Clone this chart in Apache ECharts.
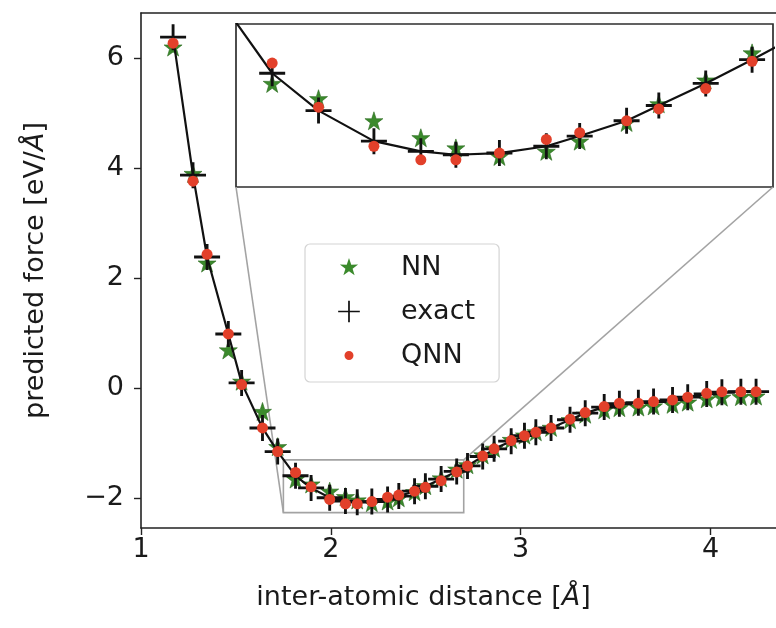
<!DOCTYPE html>
<html>
<head>
<meta charset="utf-8">
<script src="https://cdn.jsdelivr.net/npm/echarts@6/dist/echarts.min.js"></script>
<style>
  html, body { margin: 0; padding: 0; background: #fff; }
  #chart { width: 776px; height: 628px; }
</style>
</head>
<body>
<div id="chart"></div>
<script>
// inter-atomic distance [Å]
var distance = [1.169, 1.274, 1.348, 1.460, 1.530, 1.640, 1.720, 1.814, 1.896, 1.994,
  2.077, 2.139, 2.216, 2.299, 2.358, 2.441, 2.498, 2.581, 2.663, 2.720,
  2.800, 2.860, 2.950, 3.020, 3.080, 3.160, 3.260, 3.340, 3.440, 3.520,
  3.620, 3.700, 3.800, 3.880, 3.980, 4.060, 4.160, 4.240];
// force [eV/Å]
var exactForce = [6.38, 3.87, 2.38, 0.98, 0.09, -0.73, -1.16, -1.60, -1.82, -2.00,
  -2.06, -2.08, -2.07, -2.03, -1.97, -1.88, -1.79, -1.66, -1.52, -1.42,
  -1.25, -1.11, -0.97, -0.87, -0.81, -0.73, -0.58, -0.46, -0.35, -0.29,
  -0.27, -0.25, -0.22, -0.17, -0.11, -0.08, -0.07, -0.07];
var nnForce = [6.20, 3.90, 2.27, 0.69, 0.12, -0.43, -1.07, -1.66, -1.75, -1.88,
  -1.98, -2.04, -2.09, -2.06, -2.00, -1.89, -1.78, -1.64, -1.48, -1.40,
  -1.22, -1.10, -0.94, -0.86, -0.80, -0.72, -0.58, -0.48, -0.40, -0.36,
  -0.35, -0.33, -0.30, -0.26, -0.20, -0.17, -0.16, -0.15];
var qnnForce = [6.27, 3.76, 2.43, 0.98, 0.06, -0.73, -1.16, -1.54, -1.80, -2.03,
  -2.11, -2.11, -2.07, -1.99, -1.95, -1.88, -1.81, -1.69, -1.53, -1.42,
  -1.24, -1.11, -0.96, -0.87, -0.81, -0.73, -0.57, -0.45, -0.34, -0.28,
  -0.28, -0.25, -0.22, -0.17, -0.10, -0.07, -0.07, -0.07];

var xTicks = [1, 2, 3, 4];
var yTicks = [-2, 0, 2, 4, 6];
// zoomed region shown in the inset
var zoomX = [1.75, 2.70];
var zoomY = [-2.27, -1.31];

var FONT = "DejaVu Sans";
var AXIS_COLOR = "#222";
var TEXT_COLOR = "#1a1a1a";
var GREEN = "#3b8a2c";
var RED = "#e2402a";

var starPath = "path://M50,0L61.8,35.1L97.6,34.5L68.8,56.2L79.4,90.5L50,69.8L20.6,90.5L31.2,56.2L2.4,34.5L38.2,35.1Z";
var plusPath = "path://M0,8.9H20V11.1H0ZM8.9,0H11.1V20H8.9Z";
// legend icons: tiny corner specks widen the box so the glyph keeps its own size
var starLegend = "path://M-18,-18h0.01v0.01ZM118,118h0.01v0.01ZM50,0L61.8,35.1L97.6,34.5L68.8,56.2L79.4,90.5L50,69.8L20.6,90.5L31.2,56.2L2.4,34.5L38.2,35.1Z";
var plusLegend = "path://M-2,-2h0.01v0.01ZM22,22h0.01v0.01ZM0,9.2H20V10.8H0ZM9.2,0H10.8V20H9.2Z";
var dotLegend = "path://M0,0h0.01v0.01ZM26,26h0.01v0.01ZM17.5,13A4.5,4.5,0,1,1,8.5,13A4.5,4.5,0,1,1,17.5,13Z";

function pairs(xs, ys) {
  var out = [];
  for (var i = 0; i < xs.length; i++) out.push([xs[i], ys[i]]);
  return out;
}
function minus(v) {
  return String(v).replace("-", "\u2212");
}

var nnData = pairs(distance, nnForce);
var exactData = pairs(distance, exactForce);
var qnnData = pairs(distance, qnnForce);

function makeSeries(xi, yi) {
  return [
    {
      name: "NN", type: "scatter", xAxisIndex: xi, yAxisIndex: yi,
      symbol: starPath, symbolSize: 18, z: 2,
      itemStyle: { color: GREEN, opacity: 1, borderColor: "#2a6a1f", borderWidth: 0.6 },
      data: nnData
    },
    {
      name: "exact", type: "line", xAxisIndex: xi, yAxisIndex: yi,
      symbol: plusPath, symbolSize: 26, showSymbol: true, z: 3,
      lineStyle: { color: "#111", width: 2.2 },
      itemStyle: { color: "#111", opacity: 1 },
      data: exactData
    },
    {
      name: "QNN", type: "scatter", xAxisIndex: xi, yAxisIndex: yi,
      symbol: "circle", symbolSize: 11, z: 4,
      itemStyle: { color: RED, opacity: 1 },
      data: qnnData
    }
  ];
}

var option = {
  animation: false,
  backgroundColor: "#fff",
  textStyle: { fontFamily: FONT },
  grid: [
    { left: 141, top: 13, right: 0, height: 515 },
    { left: 236, top: 24, width: 537, height: 163, show: true,
      borderColor: "#2e2e2e", borderWidth: 1.7, backgroundColor: "#fff", z: 1 }
  ],
  xAxis: [
    {
      type: "value", gridIndex: 0, position: "bottom", min: 1, max: 4.345,
      axisLine: { onZero: false, lineStyle: { color: AXIS_COLOR, width: 1.6 } },
      axisTick: { length: 7, customValues: xTicks, lineStyle: { color: AXIS_COLOR, width: 1.4 } },
      axisLabel: { customValues: xTicks, fontSize: 27, color: TEXT_COLOR, margin: 8, fontFamily: FONT },
      splitLine: { show: false },
      name: "{n|inter-atomic distance [}{i|Å}{n|]}",
      nameLocation: "middle", nameGap: 56,
      nameTextStyle: {
        padding: [0, 70, 0, 0],
        rich: {
          n: { fontSize: 27, color: TEXT_COLOR, fontFamily: FONT },
          i: { fontSize: 27, color: TEXT_COLOR, fontFamily: FONT, fontStyle: "italic" }
        }
      }
    },
    {
      type: "value", gridIndex: 0, position: "top", min: 1, max: 4.345,
      axisLine: { onZero: false, lineStyle: { color: AXIS_COLOR, width: 1.6 } },
      axisTick: { show: false }, axisLabel: { show: false }, splitLine: { show: false }
    },
    {
      type: "value", gridIndex: 1, min: zoomX[0], max: zoomX[1], show: false
    }
  ],
  yAxis: [
    {
      type: "value", gridIndex: 0, min: -2.55, max: 6.82,
      axisLine: { show: true, onZero: false, lineStyle: { color: AXIS_COLOR, width: 1.6 } },
      axisTick: { show: true, length: 7, customValues: yTicks, lineStyle: { color: AXIS_COLOR, width: 1.4 } },
      axisLabel: { customValues: yTicks, fontSize: 27, color: TEXT_COLOR, margin: 17, fontFamily: FONT, formatter: minus },
      splitLine: { show: false },
      name: "{n|predicted force [eV/}{i|Å}{n|]}",
      nameLocation: "middle", nameGap: 92,
      nameTextStyle: {
        rich: {
          n: { fontSize: 27, color: TEXT_COLOR, fontFamily: FONT },
          i: { fontSize: 27, color: TEXT_COLOR, fontFamily: FONT, fontStyle: "italic" }
        }
      }
    },
    {
      type: "value", gridIndex: 1, min: zoomY[0], max: zoomY[1], show: false
    }
  ],
  legend: {
    orient: "vertical", left: 305, top: 244,
    itemWidth: 26, itemHeight: 26, itemGap: 17,
    padding: [10, 24, 13, 31],
    backgroundColor: "#fff", borderColor: "#d4d4d4", borderWidth: 1.2, borderRadius: 5,
    itemStyle: { borderWidth: 0 },
    textStyle: { fontSize: 27, color: TEXT_COLOR, fontFamily: FONT, padding: [0, 0, 0, 34] },
    data: [
      { name: "NN", icon: starLegend },
      { name: "exact", icon: plusLegend },
      { name: "QNN", icon: dotLegend }
    ]
  },
  series: makeSeries(0, 0).concat(makeSeries(2, 1))
};

var chart = echarts.init(document.getElementById("chart"));
chart.setOption(option);

// zoom box in the main axes and the two connector lines to the inset
var p0 = chart.convertToPixel({ xAxisIndex: 0, yAxisIndex: 0 }, [zoomX[0], zoomY[0]]);
var p1 = chart.convertToPixel({ xAxisIndex: 0, yAxisIndex: 0 }, [zoomX[1], zoomY[1]]);
var q0 = chart.convertToPixel({ xAxisIndex: 2, yAxisIndex: 1 }, [zoomX[0], zoomY[0]]);
var q1 = chart.convertToPixel({ xAxisIndex: 2, yAxisIndex: 1 }, [zoomX[1], zoomY[0]]);
var boxStyle = { fill: null, stroke: "#a3a3a3", lineWidth: 1.6 };

chart.setOption({
  graphic: [
    { type: "rect", z: 1, silent: true,
      shape: { x: p0[0], y: p1[1], width: p1[0] - p0[0], height: p0[1] - p1[1] },
      style: boxStyle },
    { type: "line", z: 1, silent: true,
      shape: { x1: p0[0], y1: p0[1], x2: q0[0], y2: q0[1] }, style: boxStyle },
    { type: "line", z: 1, silent: true,
      shape: { x1: p1[0], y1: p1[1], x2: q1[0], y2: q1[1] }, style: boxStyle }
  ]
});
</script>
</body>
</html>
